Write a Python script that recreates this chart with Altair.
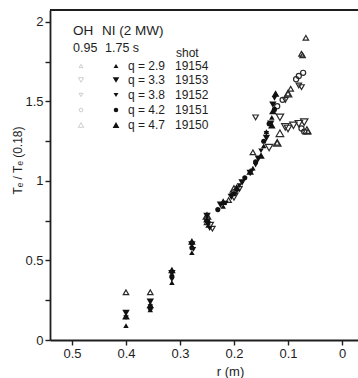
import altair as alt
import pandas as pd

# ---------------- data ----------------
# NI (2 MW) heated, filled symbols
ni_q29_r = [0.40, 0.355, 0.315, 0.278, 0.248, 0.22, 0.195, 0.165, 0.145, 0.13, 0.14]
ni_q29_v = [0.09, 0.19, 0.36, 0.55, 0.72, 0.84, 0.95, 1.08, 1.22, 1.40, 1.31]
ni_q33_r = [0.40, 0.355, 0.315, 0.278, 0.25, 0.225, 0.205, 0.185, 0.17, 0.155, 0.14, 0.128, 0.132]
ni_q33_v = [0.17, 0.24, 0.42, 0.60, 0.78, 0.85, 0.90, 0.99, 1.05, 1.14, 1.27, 1.48, 1.36]
ni_q38_r = [0.40, 0.355, 0.315, 0.275, 0.245, 0.215, 0.19, 0.16, 0.14, 0.125, 0.15]
ni_q38_v = [0.14, 0.21, 0.38, 0.57, 0.70, 0.86, 0.97, 1.10, 1.30, 1.52, 1.19]
ni_q42_r = [0.355, 0.315, 0.278, 0.248, 0.23, 0.20, 0.18, 0.16, 0.135, 0.125, 0.145]
ni_q42_v = [0.20, 0.40, 0.58, 0.74, 0.82, 0.92, 1.02, 1.12, 1.36, 1.45, 1.25]
ni_q47_r = [0.40, 0.355, 0.315, 0.278, 0.25, 0.22, 0.195, 0.17, 0.15, 0.13, 0.123, 0.128]
ni_q47_v = [0.15, 0.22, 0.44, 0.62, 0.76, 0.87, 0.96, 1.06, 1.16, 1.35, 1.55, 1.44]

# OH, open symbols
oh_q29_r = [0.40, 0.355, 0.25, 0.21, 0.165, 0.12, 0.10, 0.095, 0.075, 0.073, 0.067, 0.063]
oh_q29_v = [0.30, 0.30, 0.74, 0.88, 1.18, 1.24, 1.55, 1.58, 1.80, 1.79, 1.90, 1.31]
oh_q33_r = [0.245, 0.20, 0.135, 0.115, 0.105, 0.10, 0.09, 0.08, 0.07]
oh_q33_v = [0.72, 0.90, 1.21, 1.40, 1.34, 1.33, 1.35, 1.36, 1.37]
oh_q38_r = [0.24, 0.19, 0.16, 0.105, 0.08, 0.075]
oh_q38_v = [0.70, 0.95, 1.40, 1.51, 1.60, 1.59]
oh_q42_r = [0.25, 0.20, 0.12, 0.11, 0.085, 0.08, 0.072, 0.075, 0.07]
oh_q42_v = [0.76, 0.93, 1.47, 1.51, 1.64, 1.66, 1.68, 1.33, 1.31]
oh_q47_r = [0.25, 0.20, 0.115, 0.12, 0.10, 0.065]
oh_q47_v = [0.78, 0.95, 1.30, 1.24, 1.55, 1.32]

q_labels = ["q = 2.9", "q = 3.3", "q = 3.8", "q = 4.2", "q = 4.7"]
shots = ["19154", "19153", "19152", "19151", "19150"]
x_ticks = [0, 0.1, 0.2, 0.3, 0.4, 0.5]
y_ticks = [0, 0.25, 0.5, 0.75, 1, 1.25, 1.5, 1.75, 2]

# ---------------- styling ----------------
INK = "#1e1e1e"
FONT = "Liberation Sans"
shapes = ["triangle-up", "triangle-down", "triangle-down", "circle", "triangle-up"]
sizes = [30, 55, 30, 26, 58]

ni = [(ni_q29_r, ni_q29_v), (ni_q33_r, ni_q33_v), (ni_q38_r, ni_q38_v),
      (ni_q42_r, ni_q42_v), (ni_q47_r, ni_q47_v)]
oh = [(oh_q29_r, oh_q29_v), (oh_q33_r, oh_q33_v), (oh_q38_r, oh_q38_v),
      (oh_q42_r, oh_q42_v), (oh_q47_r, oh_q47_v)]

W, H = 308, 330
xscale = alt.Scale(domain=[-0.0296, 0.5407], reverse=True, nice=False, zero=False)
yscale = alt.Scale(domain=[0, 2.075], nice=False, zero=False)
xaxis = alt.Axis(values=x_ticks, format="~g", title="r (m)", titleX=180, titleY=35,
                 titleAnchor="middle", titleAlign="center", titleBaseline="alphabetic",
                 titleFontSize=13, titleFontWeight="normal",
                 labelFontSize=13, tickSize=5, labelPadding=2, grid=False)
yaxis = alt.Axis(values=y_ticks, format="~g",
                 labelExpr="datum.value % 0.5 == 0 ? datum.label : ''",
                 title="Tₑ / Tₑ (0.18)", titleX=-33, titleY=150, titleAngle=270,
                 titleAlign="center", titleBaseline="middle",
                 titleFontSize=12, titleFontWeight="normal",
                 labelFontSize=13, tickSize=5, labelPadding=2, grid=False)

layers = []
for i, (rr, vv) in enumerate(oh):
    d = pd.DataFrame({"r": rr, "v": vv})
    layers.append(alt.Chart(d).mark_point(shape=shapes[i], size=sizes[i], filled=False,
                                          color="#2a2a2a", strokeWidth=1.2, opacity=1)
                  .encode(x=alt.X("r:Q", scale=xscale, axis=xaxis),
                          y=alt.Y("v:Q", scale=yscale, axis=yaxis)))
for i, (rr, vv) in enumerate(ni):
    d = pd.DataFrame({"r": rr, "v": vv})
    layers.append(alt.Chart(d).mark_point(shape=shapes[i], size=sizes[i], filled=True,
                                          color="#111", opacity=1)
                  .encode(x=alt.X("r:Q", scale=xscale, axis=xaxis),
                          y=alt.Y("v:Q", scale=yscale, axis=yaxis)))

# top frame line
one = pd.DataFrame({"a": [0]})
layers.append(alt.Chart(one).mark_rule(color=INK, strokeWidth=2)
              .encode(x=alt.value(0), x2=alt.value(W), y=alt.value(0)))

# in-plot legend (pixel positions relative to plot origin at (50,10))
def txt(s, px, py, size=12):
    return (alt.Chart(pd.DataFrame({"t": [s]}))
            .mark_text(align="left", baseline="middle", font=FONT, fontSize=size, color=INK)
            .encode(x=alt.value(px - 50), y=alt.value(py - 10), text="t:N"))

layers += [txt("OH", 73, 31, 13.5), txt("NI (2 MW)", 102, 31, 13.5),
           txt("0.95", 73, 48, 12.5), txt("1.75 s", 105, 48, 12.5), txt("shot", 176, 53)]
rows_y = [66, 80, 95, 110, 125]
for i in range(5):
    layers.append(alt.Chart(one).mark_point(shape=shapes[i], size=sizes[i] * 0.5, filled=False,
                                            color="#aaa", strokeWidth=0.8)
                  .encode(x=alt.value(81 - 50), y=alt.value(rows_y[i] - 10)))
    layers.append(alt.Chart(one).mark_point(shape=shapes[i], size=sizes[i] * 0.8, filled=True,
                                            color="#111", opacity=1)
                  .encode(x=alt.value(116 - 50), y=alt.value(rows_y[i] - 10)))
    layers.append(txt(q_labels[i], 128, rows_y[i]))
    layers.append(txt(shots[i], 175, rows_y[i]))

chart = (alt.layer(*layers)
         .properties(width=W, height=H, autosize=alt.AutoSizeParams(type="none"),
                     padding={"left": 50, "top": 10, "right": 0, "bottom": 38},
                     background="white")
         .configure_view(stroke=None)
         .configure_axis(domainColor=INK, domainWidth=1.8, tickColor=INK, tickWidth=1.4,
                         labelColor=INK, titleColor=INK, labelFont=FONT, titleFont=FONT))

chart.save("out.html", embed_options={"renderer": "svg", "actions": False})
